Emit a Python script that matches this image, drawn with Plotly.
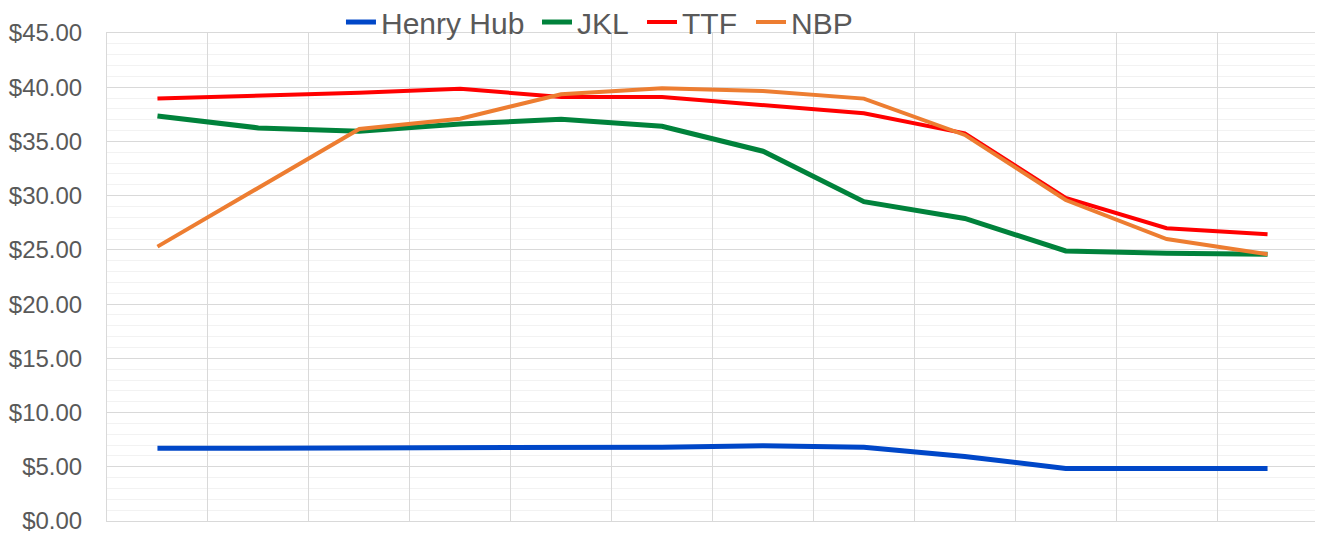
import plotly.graph_objects as go

categories = ["M1", "M2", "M3", "M4", "M5", "M6", "M7", "M8", "M9", "M10", "M11", "M12"]
henry_hub = [6.7, 6.7, 6.7, 6.7, 6.8, 6.8, 6.95, 6.8, 5.95, 4.85, 4.85, 4.85]
jkl = [37.35, 36.25, 35.95, 36.6, 37.05, 36.4, 34.1, 29.45, 27.9, 24.9, 24.7, 24.6]
ttf = [38.95, 39.2, 39.5, 39.85, 39.1, 39.1, 38.35, 37.6, 35.75, 29.8, 27.0, 26.45]
nbp = [25.3, 30.7, 36.15, 37.1, 39.35, 39.9, 39.65, 38.95, 35.6, 29.6, 26.0, 24.6]
yticks = [0, 5, 10, 15, 20, 25, 30, 35, 40, 45]
ytick_labels = ["$%.2f" % v for v in yticks]

series = [
    ("Henry Hub", henry_hub, "#0047c8", 5, "legend", 0.1932, 145),
    ("JKL", jkl, "#00823b", 5, "legend2", 0.3551, 54),
    ("TTF", ttf, "#ff0000", 4, "legend3", 0.4418, 57),
    ("NBP", nbp, "#ed7d31", 4, "legend4", 0.5318, 64),
]

fig = go.Figure()
legend_layout = {}
for name, vals, color, w, leg, lx, ew in series:
    fig.add_trace(go.Scatter(
        x=categories, y=vals, name=name, mode="lines", legend=leg,
        line=dict(color=color, width=w, shape="linear"),
    ))
    legend_layout[leg] = dict(
        orientation="h", x=lx, xanchor="left", y=1.0225, yanchor="middle",
        font=dict(size=30, color="#595959",
                  family="Liberation Sans, Arial, sans-serif"),
        bgcolor="rgba(0,0,0,0)", entrywidthmode="pixels", entrywidth=ew,
    )

fig.update_layout(
    width=1315, height=527,
    margin=dict(l=99, r=5, t=25, b=14, autoexpand=False),
    plot_bgcolor="white", paper_bgcolor="white",
    font=dict(family="Liberation Sans, Arial, sans-serif", color="#595959"),
    showlegend=True,
    **legend_layout,
)
fig.update_xaxes(
    type="category", showticklabels=False, tickson="boundaries",
    range=[-0.5, len(categories) - 0.5],
    showgrid=True, gridcolor="#d9d9d9", gridwidth=1,
    showline=True, linecolor="#d9d9d9", mirror=True,
    ticks="", zeroline=False,
)
fig.update_yaxes(
    range=[0, 45], tickvals=yticks, ticktext=ytick_labels,
    showgrid=True, gridcolor="#d9d9d9", gridwidth=1,
    minor=dict(dtick=1, showgrid=True, gridcolor="#f2f2f2", gridwidth=1),
    showline=True, linecolor="#d9d9d9", mirror=True,
    tickfont=dict(size=24, color="#595959"), ticklabelstandoff=19,
    zeroline=False, ticks="",
)

fig.write_html("out.html")
